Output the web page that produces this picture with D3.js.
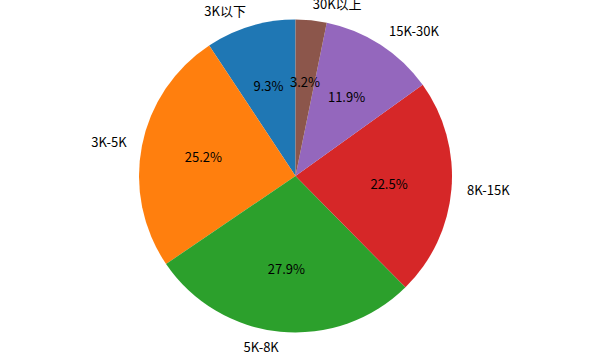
<!DOCTYPE html>
<html>
<head>
<meta charset="utf-8">
<script src="https://cdn.jsdelivr.net/npm/d3@7"></script>
<style>
  body { margin: 0; background: #fff; }
  text { font-family: "Noto Sans CJK SC", "DejaVu Sans", sans-serif; font-size: 13px; fill: #000; }
</style>
</head>
<body>
<script>
var categories = ["3K以下", "3K-5K", "5K-8K", "8K-15K", "15K-30K", "30K以上"];
var shares = [9.3, 25.2, 27.9, 22.5, 11.9, 3.2];
var colors = ["#1f77b4", "#ff7f0e", "#2ca02c", "#d62728", "#9467bd", "#8c564b"];

var width = 590,
    height = 362,
    cx = 295.5,
    cy = 176,
    radius = 156.5;

var svg = d3.select("body").append("svg").attr("width", width).attr("height", height);
var g = svg.append("g").attr("transform", "translate(" + cx + "," + cy + ")");

// counterclockwise from 12 o'clock, like matplotlib startangle=90
var pie = d3.pie().sort(null).startAngle(0).endAngle(-2 * Math.PI).value(function (d) { return d; });
var arcs = pie(shares);
var arc = d3.arc().innerRadius(0).outerRadius(radius);

g.selectAll("path.slice").data(arcs).enter().append("path")
  .attr("class", "slice")
  .attr("d", arc)
  .attr("fill", function (d, i) { return colors[i]; });

function mid(d) { return (d.startAngle + d.endAngle) / 2; }

g.selectAll("text.label").data(arcs).enter().append("text")
  .attr("class", "label")
  .attr("x", function (d) { return Math.sin(mid(d)) * radius * 1.1; })
  .attr("y", function (d) { return -Math.cos(mid(d)) * radius * 1.1; })
  .attr("dy", "0.35em")
  .attr("text-anchor", function (d) { return Math.sin(mid(d)) < 0 ? "end" : "start"; })
  .text(function (d, i) { return categories[i]; });

g.selectAll("text.pct").data(arcs).enter().append("text")
  .attr("class", "pct")
  .attr("x", function (d) { return Math.sin(mid(d)) * radius * 0.6; })
  .attr("y", function (d) { return -Math.cos(mid(d)) * radius * 0.6; })
  .attr("dy", "0.35em")
  .attr("text-anchor", "middle")
  .text(function (d) { return d.data.toFixed(1) + "%"; });
</script>
</body>
</html>
